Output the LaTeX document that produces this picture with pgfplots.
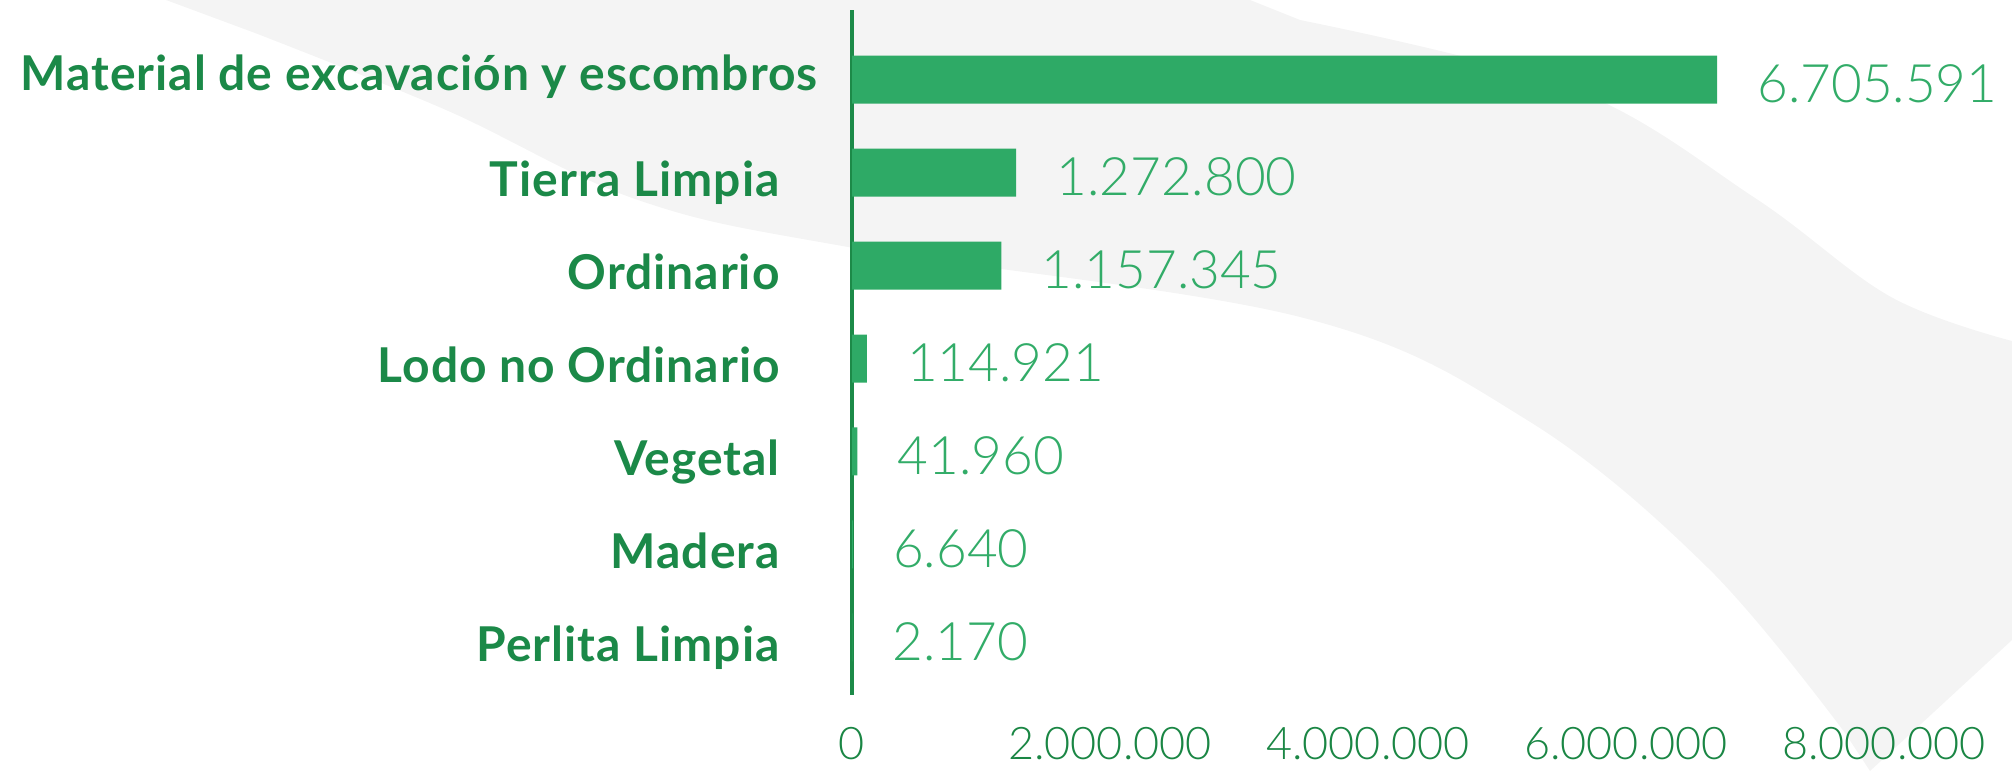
\documentclass[border=0pt]{standalone}
\usepackage{pgfplots}
\pgfplotsset{compat=1.18}
\usepackage{pgfplotstable}
\usepackage{fontspec}
\setmainfont{Lato}
\newfontfamily\latofam{Lato}[LetterSpace=2]
\newfontfamily\latolight{Lato Light}
\newcommand\catfont{\latofam\bfseries\fontsize{24}{28}\selectfont}
\newcommand\valfont{\latolight\fontsize{26.5}{30}\selectfont}
\newcommand\tickfont{\latolight\fontsize{22.5}{26}\selectfont}
\definecolor{bargreen}{RGB}{46,170,102}
\definecolor{valgreen}{RGB}{50,172,104}
\definecolor{labgreen}{RGB}{27,137,72}
\definecolor{tickgreen}{RGB}{26,134,68}
\definecolor{axgreen}{RGB}{28,138,72}
\definecolor{bggrey}{RGB}{244,244,244}

\pgfplotstableread{
y x label
6 6705591 6.705.591
5 1272800 1.272.800
4 1157345 1.157.345
3 114921 114.921
2 41960 41.960
1 6640 6.640
0 2170 2.170
}\datatable

\begin{document}
\begin{tikzpicture}[x=1pt,y=1pt]
\path[use as bounding box] (0,0) rectangle (1006,385.5);
% faint decorative background band
\fill[bggrey] (83,385.5) -- (625,385.5)
  -- plot[smooth, tension=0.6] coordinates {(650,375.5) (786.5,341) (877.5,286.5) (945.5,237) (1006,215)}
  -- (1006,65.5) -- (935,0)
  -- plot[smooth, tension=0.6] coordinates {(922.5,19) (854.5,101) (763.5,175.5) (650,227) (424,262) (319,285.5) (223,330.5) (127.5,369)}
  -- cycle;
\begin{axis}[
  at={(426pt,38pt)}, anchor=south west,
  scale only axis, width=516pt, height=342.5pt,
  xmin=0, xmax=8000000, ymin=-0.62, ymax=6.75,
  xbar, bar width=24pt,
  clip=false,
  axis lines*=left,
  x axis line style={draw=none},
  y axis line style={draw=axgreen, line width=2.2pt},
  major tick length=0pt,
  scaled x ticks=false,
  xtick={0,2000000,4000000,6000000,8000000},
  xticklabels={0,2.000.000,4.000.000,6.000.000,8.000.000},
  xticklabel style={font=\tickfont, text=tickgreen, anchor=north, inner sep=0pt, yshift=-16pt},
  ytick={0,1,2,3,4,5,6},
  yticklabels={Perlita Limpia,Madera,Vegetal,Lodo no Ordinario,Ordinario,Tierra Limpia,\raisebox{6.5pt}{Material de excavación y escombros}\hspace*{-19pt}},
  yticklabel style={font=\catfont, text=labgreen, anchor=base east, inner sep=0pt, xshift=-36pt, yshift=-12pt},
  nodes near coords,
  point meta=explicit symbolic,
  nodes near coords style={font=\valfont, text=valgreen, anchor=base west, inner sep=0pt, xshift=20pt, yshift=-11.5pt},
]
\addplot[fill=bargreen, draw=none] table[x=x, y=y, meta=label] {\datatable};
\end{axis}
\end{tikzpicture}
\end{document}
